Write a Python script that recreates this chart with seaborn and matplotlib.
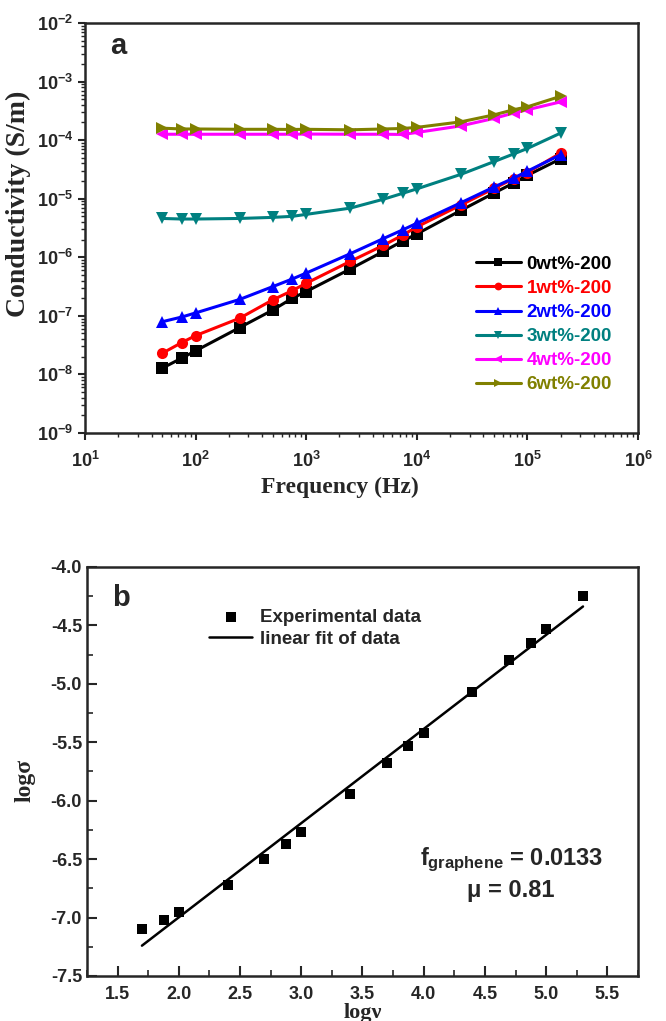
import numpy as np
import pandas as pd
import matplotlib
matplotlib.use("Agg")
import matplotlib.pyplot as plt
import seaborn as sns
from matplotlib.ticker import LogLocator, NullFormatter, MultipleLocator, FormatStrFormatter

# ---- data ----
freq_hz = [50, 75, 100, 250, 500, 750, 1000, 2500, 5000, 7500,
           10000, 25000, 50000, 75000, 100000, 200000]

sigma_0wt = [1.28e-8, 1.9e-8, 2.53e-8, 6.3e-8, 1.26e-7, 2.0e-7, 2.6e-7, 6.3e-7,
             1.26e-6, 1.9e-6, 2.5e-6, 6.3e-6, 1.25e-5, 1.85e-5, 2.5e-5, 4.8e-5]
sigma_1wt = [2.3e-8, 3.5e-8, 4.6e-8, 9.1e-8, 1.88e-7, 2.7e-7, 3.6e-7, 8.5e-7,
             1.6e-6, 2.4e-6, 3.3e-6, 7.8e-6, 1.5e-5, 2.2e-5, 2.8e-5, 6.0e-5]
# panel b is the 2wt% sample: log(sigma) vs log(frequency)
log_sigma_2wt = [-7.10, -7.02, -6.95, -6.72, -6.50, -6.37, -6.27, -5.94,
                 -5.68, -5.53, -5.42, -5.07, -4.80, -4.65, -4.53, -4.25]
sigma_3wt = [4.6e-6, 4.5e-6, 4.5e-6, 4.6e-6, 4.8e-6, 5.0e-6, 5.4e-6, 6.9e-6,
             9.8e-6, 1.24e-5, 1.47e-5, 2.6e-5, 4.3e-5, 5.8e-5, 7.2e-5, 1.32e-4]
sigma_4wt = [1.26e-4, 1.26e-4, 1.26e-4, 1.26e-4, 1.26e-4, 1.26e-4, 1.27e-4, 1.26e-4,
             1.26e-4, 1.25e-4, 1.35e-4, 1.75e-4, 2.35e-4, 2.9e-4, 3.3e-4, 4.5e-4]
sigma_6wt = [1.6e-4, 1.55e-4, 1.55e-4, 1.53e-4, 1.53e-4, 1.52e-4, 1.53e-4, 1.5e-4,
             1.55e-4, 1.58e-4, 1.65e-4, 2.05e-4, 2.7e-4, 3.3e-4, 3.7e-4, 5.6e-4]

sample_labels = ["0wt%-200", "1wt%-200", "2wt%-200", "3wt%-200", "4wt%-200", "6wt%-200"]

fit_label = "linear fit of data"
data_label = "Experimental data"

sns.set_style("ticks")
plt.rcParams["font.family"] = ["Liberation Sans", "DejaVu Sans"]
plt.rcParams["font.weight"] = "bold"
plt.rcParams["mathtext.fontset"] = "custom"
plt.rcParams["mathtext.rm"] = "Liberation Sans:bold"
plt.rcParams["mathtext.it"] = "Liberation Sans:bold"
plt.rcParams["mathtext.bf"] = "Liberation Sans:bold"

SERIF = ["Liberation Serif", "DejaVu Serif"]
LEG_FONT = {"family": ["Liberation Sans"], "weight": "bold", "size": 13.5}

sigma_2wt = list(10 ** np.array(log_sigma_2wt))
series = [sigma_0wt, sigma_1wt, sigma_2wt, sigma_3wt, sigma_4wt, sigma_6wt]
df = pd.concat([
    pd.DataFrame({"freq": freq_hz, "sigma": s, "sample": lab})
    for s, lab in zip(series, sample_labels)
], ignore_index=True)

colors = ["#000000", "#ff0000", "#0000ff", "#008080", "#ff00ff", "#808000"]
marks = ["s", "o", "^", "v", "<", ">"]

fig = plt.figure(figsize=(6.66, 10.21), dpi=100)
ax1 = fig.add_axes([0.1276, 0.5759, 0.8303, 0.4016])
ax2 = fig.add_axes([0.1306, 0.0441, 0.8273, 0.4006])

# ---- panel a ----
for lab, col, mk in zip(sample_labels, colors, marks):
    sub = df[df["sample"] == lab]
    sns.lineplot(data=sub, x="freq", y="sigma", ax=ax1, color=col, marker=mk,
                 markersize=8, markeredgewidth=0, linewidth=2.2, label=lab)
ax1.set_xscale("log")
ax1.set_yscale("log")
ax1.set_xlim(10, 1e6)
ax1.set_ylim(1e-9, 1e-2)
for axis in (ax1.xaxis, ax1.yaxis):
    axis.set_major_locator(LogLocator(base=10, numticks=20))
    axis.set_minor_locator(LogLocator(base=10, subs=np.arange(2, 10), numticks=100))
    axis.set_minor_formatter(NullFormatter())
ax1.tick_params(which="major", direction="out", length=5, width=1.5, labelsize=13)
ax1.tick_params(axis="x", which="major", pad=8)
ax1.tick_params(which="minor", direction="out", length=3, width=1)
ax1.set_xlabel("Frequency (Hz)", family=SERIF, fontsize=17, fontweight="bold")
ax1.set_ylabel("Conductivity (S/m)", family=SERIF, fontsize=20, fontweight="bold")
ax1.xaxis.set_label_coords(0.461, -0.107)
ax1.yaxis.set_label_coords(-0.098, 0.56)
ax1.text(0.045, 0.945, "a", transform=ax1.transAxes, fontsize=21, fontweight="bold",
         va="center", ha="left")
ax1.legend(loc="upper left", bbox_to_anchor=(0.69, 0.455), frameon=False,
           prop=LEG_FONT, handlelength=2.4, handletextpad=0.3, labelspacing=0.37,
           borderpad=0, labelcolor="linecolor", markerscale=0.7)

# ---- panel b ----
log_nu = np.log10(freq_hz)
slope, intercept = np.polyfit(log_nu, log_sigma_2wt, 1)
fit_x = np.array([log_nu[0], log_nu[-1]])
fit_df = pd.DataFrame({"x": fit_x, "y": slope * fit_x + intercept})
pts_df = pd.DataFrame({"x": log_nu, "y": log_sigma_2wt})

sns.scatterplot(data=pts_df, x="x", y="y", ax=ax2, marker="s", color="black",
                s=55, linewidth=0, label=data_label, zorder=3)
sns.lineplot(data=fit_df, x="x", y="y", ax=ax2, color="black", linewidth=1.8,
             label=fit_label)
ax2.set_xlim(1.25, 5.75)
ax2.set_ylim(-7.5, -4.0)
ax2.xaxis.set_major_locator(MultipleLocator(0.5))
ax2.xaxis.set_minor_locator(MultipleLocator(0.25))
ax2.yaxis.set_major_locator(MultipleLocator(0.5))
ax2.yaxis.set_minor_locator(MultipleLocator(0.25))
ax2.xaxis.set_major_formatter(FormatStrFormatter("%.1f"))
ax2.yaxis.set_major_formatter(FormatStrFormatter("%.1f"))
ax2.tick_params(which="major", direction="in", length=7, width=1.5, labelsize=13)
ax2.tick_params(axis="x", which="major", pad=7)
ax2.tick_params(which="minor", direction="in", length=4, width=1.2)
ax2.set_xlabel("logν", family=SERIF, fontsize=16, fontweight="bold")
ax2.set_ylabel("logσ", family=SERIF, fontsize=17, fontweight="bold")
ax2.xaxis.set_label_coords(0.5, -0.066)
ax2.yaxis.set_label_coords(-0.094, 0.479)
ax2.text(0.045, 0.925, "b", transform=ax2.transAxes, fontsize=21, fontweight="bold",
         va="center", ha="left")
ax2.legend(loc="upper left", bbox_to_anchor=(0.205, 0.92), frameon=False, prop=LEG_FONT,
           handlelength=2.3, handletextpad=0.4, labelspacing=0.25, borderpad=0)
ax2.text(0.77, 0.285, r"$f_{graphene}$ = 0.0133", transform=ax2.transAxes,
         fontsize=17, fontweight="bold", ha="center", va="center")
ax2.text(0.77, 0.21, "μ = 0.81", transform=ax2.transAxes,
         fontsize=17, fontweight="bold", ha="center", va="center")

for ax in (ax1, ax2):
    for sp in ax.spines.values():
        sp.set_linewidth(1.8)
    for lbl in ax.get_xticklabels() + ax.get_yticklabels():
        lbl.set_fontweight("bold")

fig.savefig("out.png", dpi=100, facecolor="white")
